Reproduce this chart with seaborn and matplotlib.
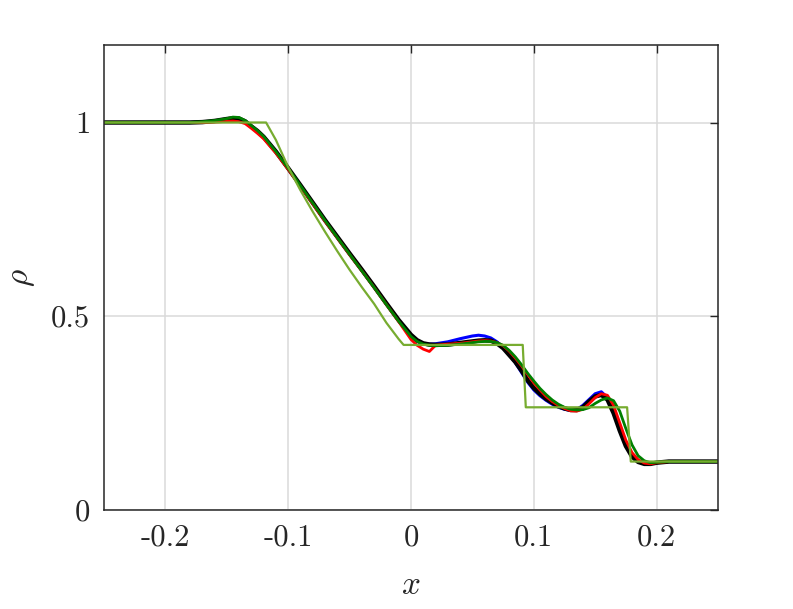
import numpy as np
import pandas as pd
import matplotlib
matplotlib.use("Agg")
import matplotlib.pyplot as plt
import seaborn as sns

# grid of the numerical solutions
x_num = [-0.25, -0.20, -0.18, -0.17, -0.16, -0.15, -0.145, -0.14, -0.135, -0.13,
         -0.125, -0.12, -0.11, -0.10, -0.09, -0.08, -0.07, -0.06, -0.05, -0.04,
         -0.03, -0.02, -0.01, 0.0, 0.005, 0.01, 0.015, 0.02, 0.03, 0.04,
         0.05, 0.055, 0.06, 0.065, 0.07, 0.075, 0.08, 0.085, 0.09, 0.095,
         0.10, 0.105, 0.11, 0.115, 0.12, 0.125, 0.13, 0.135, 0.14, 0.145,
         0.15, 0.155, 0.16, 0.165, 0.17, 0.175, 0.18, 0.185, 0.19, 0.195,
         0.20, 0.21, 0.25]

rho_blue = [1.0, 1.0, 1.0, 1.001, 1.004, 1.009, 1.011, 1.01, 1.003, 0.99,
            0.977, 0.962, 0.924, 0.881, 0.837, 0.792, 0.747, 0.704, 0.661, 0.619,
            0.576, 0.532, 0.488, 0.447, 0.435, 0.429, 0.428, 0.429, 0.434, 0.442,
            0.449, 0.451, 0.449, 0.444, 0.434, 0.42, 0.402, 0.38, 0.355, 0.33,
            0.31, 0.295, 0.283, 0.273, 0.265, 0.26, 0.257, 0.259, 0.27, 0.285,
            0.3, 0.305, 0.29, 0.255, 0.21, 0.17, 0.142, 0.126, 0.12, 0.12,
            0.122, 0.125, 0.125]

rho_black = [1.0, 1.0, 1.0, 1.001, 1.004, 1.009, 1.011, 1.01, 1.003, 0.99,
             0.978, 0.963, 0.925, 0.882, 0.838, 0.793, 0.748, 0.705, 0.662, 0.62,
             0.577, 0.533, 0.49, 0.452, 0.438, 0.43, 0.427, 0.426, 0.427, 0.431,
             0.435, 0.437, 0.438, 0.437, 0.43, 0.418, 0.40, 0.382, 0.36, 0.335,
             0.315, 0.30, 0.287, 0.277, 0.268, 0.262, 0.258, 0.258, 0.265, 0.28,
             0.293, 0.297, 0.285, 0.25, 0.205, 0.165, 0.138, 0.124, 0.119, 0.119,
             0.122, 0.125, 0.125]

rho_red = [1.0, 1.0, 1.0, 1.0, 1.001, 1.003, 1.004, 1.002, 0.997, 0.985,
           0.972, 0.958, 0.921, 0.879, 0.835, 0.79, 0.745, 0.702, 0.659, 0.617,
           0.574, 0.53, 0.486, 0.44, 0.425, 0.415, 0.409, 0.425, 0.428, 0.43,
           0.434, 0.436, 0.437, 0.436, 0.432, 0.424, 0.41, 0.392, 0.372, 0.35,
           0.328, 0.31, 0.293, 0.28, 0.27, 0.262, 0.256, 0.255, 0.26, 0.274,
           0.29, 0.3, 0.296, 0.27, 0.225, 0.18, 0.148, 0.13, 0.121, 0.119,
           0.122, 0.125, 0.125]

rho_green = [1.0, 1.0, 1.0, 1.002, 1.005, 1.01, 1.014, 1.013, 1.005, 0.992,
             0.979, 0.964, 0.925, 0.882, 0.837, 0.792, 0.747, 0.703, 0.66, 0.617,
             0.574, 0.53, 0.487, 0.448, 0.435, 0.428, 0.425, 0.424, 0.425, 0.428,
             0.432, 0.434, 0.435, 0.435, 0.432, 0.425, 0.412, 0.395, 0.375, 0.353,
             0.333, 0.314, 0.298, 0.284, 0.273, 0.265, 0.26, 0.258, 0.259, 0.264,
             0.275, 0.284, 0.289, 0.282, 0.255, 0.21, 0.168, 0.14, 0.127, 0.122,
             0.123, 0.125, 0.125]

# exact solution
x_exact = [-0.25, -0.118, -0.11, -0.10, -0.09, -0.08, -0.07, -0.06, -0.05, -0.04,
           -0.03, -0.02, -0.01, -0.006, 0.091, 0.0935, 0.176, 0.179, 0.25]
rho_exact = [1.0, 1.0, 0.955, 0.885, 0.825, 0.77, 0.718, 0.668, 0.62, 0.575,
             0.532, 0.483, 0.441, 0.426, 0.426, 0.265, 0.265, 0.125, 0.125]

sns.set_theme(style="white")
plt.rcParams['mathtext.fontset'] = 'cm'
plt.rcParams['font.family'] = ['cmr10', 'DejaVu Serif']
plt.rcParams['axes.unicode_minus'] = False

fig = plt.figure(figsize=(7.93, 6.09), dpi=100)
ax = fig.add_axes([0.1311, 0.1626, 0.7743, 0.7635])

series = [(rho_blue, (0, 0, 1), 2.2),
          (rho_black, (0, 0, 0), 3.2),
          (rho_red, (1, 0, 0), 2.0),
          (rho_green, (0, 0.5, 0), 2.0)]
for vals, col, lw in series:
    sns.lineplot(x=x_num, y=vals, color=col, linewidth=lw, estimator=None,
                 sort=False, ax=ax)
sns.lineplot(x=x_exact, y=rho_exact, color=(0.466, 0.674, 0.188), linewidth=1.6,
             estimator=None, sort=False, ax=ax)

ax.set_xlim(-0.25, 0.25)
ax.set_ylim(0, 1.2)
xt = [-0.2, -0.1, 0, 0.1, 0.2]
yt = [0, 0.5, 1]
ax.set_xticks(xt)
ax.set_xticklabels(["-0.2", "-0.1", "0", "0.1", "0.2"])
ax.set_yticks(yt)
ax.set_yticklabels(["0", "0.5", "1"])
ax.grid(True, color="#dadada", linewidth=1.1)
ax.set_axisbelow(True)
ax.tick_params(direction="in", length=6, width=1.0, colors="0.15", labelsize=22,
               top=True, right=True, pad=10)
for s in ax.spines.values():
    s.set_color("0.15")
    s.set_linewidth(1.1)
ax.set_xlabel(r"$x$", fontsize=24, color="0.15", labelpad=14)
ax.set_ylabel(r"$\rho$", fontsize=24, color="0.15", labelpad=10)

fig.savefig("out.png", dpi=100)
